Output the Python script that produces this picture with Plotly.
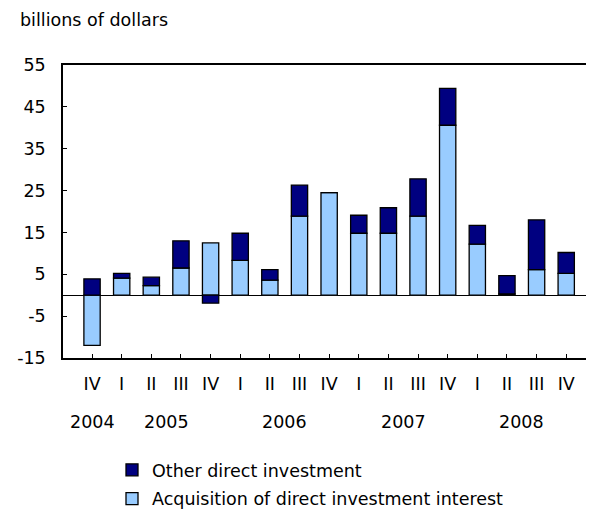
import plotly.graph_objects as go

# ---- data ----
quarters = ["IV", "I", "II", "III", "IV", "I", "II", "III", "IV",
            "I", "II", "III", "IV", "I", "II", "III", "IV"]
years = [2004, 2005, 2005, 2005, 2005, 2006, 2006, 2006, 2006,
         2007, 2007, 2007, 2007, 2008, 2008, 2008, 2008]
acquisition = [-12.0, 4.1, 2.3, 6.5, 12.5, 8.3, 3.6, 18.9, 24.5,
               14.8, 14.8, 18.9, 40.6, 12.2, 0.3, 6.1, 5.2]
other = [3.9, 1.1, 2.0, 6.5, -1.9, 6.5, 2.5, 7.4, 0.0,
         4.3, 6.1, 8.9, 8.8, 4.5, 4.4, 11.9, 5.0]

ytick_vals = [55, 45, 35, 25, 15, 5, -5, -15]
ytick_text = ["55", "45", "35", "25", "15", "5", "-5", "-15"]

FONT = "DejaVu Sans"
FS = 17.5

# page has an 8px body margin; figure is sized to fit the window
OFF = 8
W, H = 594 - OFF, 512 - OFF
# plot-area edges in page pixels
PL, PR, PT, PB = 63, 592, 65, 358
L, R, T, B = PL - OFF, W - (PR - OFF), PT - OFF, H - (PB - OFF)
PW, PH = W - L - R, H - T - B

def px_to_paper_x(px):
    return (px - OFF - L) / PW

def px_to_paper_y(py):
    return (H - B - (py - OFF)) / PH

xpos = list(range(len(quarters)))

fig = go.Figure()
fig.add_trace(go.Bar(
    x=xpos, y=acquisition, name="Acquisition of direct investment interest",
    marker=dict(color="#99CCFF", line=dict(color="#000000", width=1.3)),
    width=0.55, legendrank=2, legendgroup="a",
))
fig.add_trace(go.Bar(
    x=xpos, y=other, name="Other direct investment",
    marker=dict(color="#000080", line=dict(color="#000000", width=1.3)),
    width=0.55, legendrank=1, legendgroup="b",
))

# year labels centred under their quarters
annotations = []
for yr in sorted(set(years)):
    idx = [i for i, y in enumerate(years) if y == yr]
    annotations.append(dict(
        x=sum(idx) / len(idx), xref="x", y=px_to_paper_y(422), yref="paper",
        text=str(yr), showarrow=False, yanchor="middle", xanchor="center",
        font=dict(family=FONT, size=FS, color="#000000"),
    ))
annotations.append(dict(
    x=px_to_paper_x(18), xref="paper", y=px_to_paper_y(20), yref="paper",
    text="billions of dollars", showarrow=False, xanchor="left", yanchor="middle",
    font=dict(family=FONT, size=FS, color="#000000"),
))

fig.update_layout(
    width=W, height=H,
    margin=dict(l=L, r=R, t=T, b=B, autoexpand=False),
    paper_bgcolor="white", plot_bgcolor="white",
    barmode="relative",
    font=dict(family=FONT, size=FS, color="#000000"),
    xaxis=dict(
        range=[-0.98, 16.87], tickmode="array", tickvals=xpos, ticktext=quarters,
        ticks="inside", ticklen=4, tickcolor="#000000", tickwidth=1,
        showline=True, linecolor="#000000", linewidth=1.5, mirror=True,
        showgrid=False, zeroline=False, ticklabelstandoff=9,
        fixedrange=True, automargin=False,
    ),
    yaxis=dict(
        range=[-15, 55], tickmode="array", tickvals=ytick_vals, ticktext=ytick_text,
        ticks="inside", ticklen=4, tickcolor="#000000", tickwidth=1,
        showline=True, linecolor="#000000", linewidth=1.5, mirror=True,
        showgrid=False, zeroline=True, zerolinecolor="#000000", zerolinewidth=1,
        ticklabelstandoff=12, fixedrange=True, automargin=False,
    ),
    legend=dict(
        x=px_to_paper_x(112), y=px_to_paper_y(452),
        xanchor="left", yanchor="top", traceorder="grouped",
        tracegroupgap=3, bgcolor="rgba(0,0,0,0)",
        font=dict(family=FONT, size=FS, color="#000000"),
    ),
    annotations=annotations,
)

fig.write_html("out.html")
